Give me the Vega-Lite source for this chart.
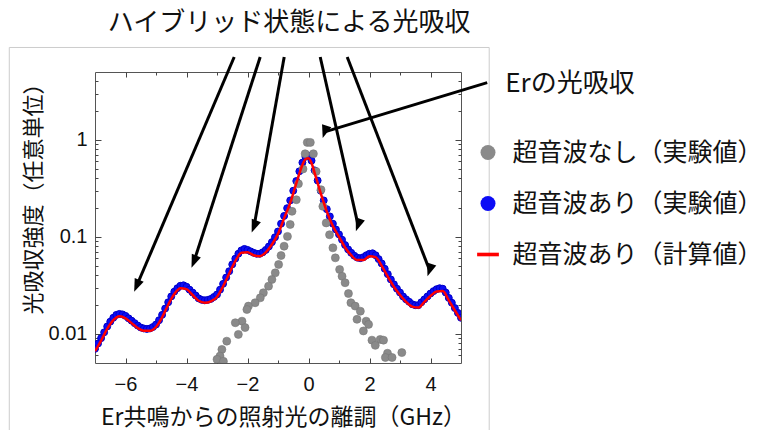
{
  "$schema": "https://vega.github.io/schema/vega-lite/v6.json",
  "autosize": "none",
  "width": 366,
  "height": 291,
  "padding": {"left": 95, "top": 72, "right": 302, "bottom": 67},
  "background": "white",
  "config": {
    "view": {"stroke": "#555555", "strokeWidth": 1},
    "font": "Liberation Sans",
    "legend": {
      "orient": "none", "legendX": 380.5, "legendY": 68, "title": null, "padding": 0,
      "labelFont": "Noto Sans CJK JP", "labelFontSize": 25, "labelColor": "#111111", "labelLimit": 0,
      "symbolSize": 225, "rowPadding": 25, "labelOffset": 12
    }
  },
  "datasets": {
    "frame": [{"x": -9.81, "y": 8.95, "x2": 5.925, "y2": 0.0008}],
    "blue": [
      {"x": -7.0, "y": 0.0070}, {"x": -6.9, "y": 0.00794}, {"x": -6.8, "y": 0.00902}, {"x": -6.7, "y": 0.01035}, {"x": -6.6, "y": 0.01189},
      {"x": -6.5, "y": 0.01334}, {"x": -6.4, "y": 0.01462}, {"x": -6.3, "y": 0.01567}, {"x": -6.2, "y": 0.01603}, {"x": -6.1, "y": 0.01585},
      {"x": -6.0, "y": 0.01531}, {"x": -5.9, "y": 0.01445}, {"x": -5.8, "y": 0.01365}, {"x": -5.7, "y": 0.01288}, {"x": -5.6, "y": 0.01216},
      {"x": -5.5, "y": 0.01161}, {"x": -5.4, "y": 0.01135}, {"x": -5.3, "y": 0.01122}, {"x": -5.2, "y": 0.01135}, {"x": -5.1, "y": 0.01175},
      {"x": -5.0, "y": 0.01245}, {"x": -4.9, "y": 0.0138}, {"x": -4.8, "y": 0.01567}, {"x": -4.7, "y": 0.0182}, {"x": -4.6, "y": 0.02113},
      {"x": -4.5, "y": 0.02427}, {"x": -4.4, "y": 0.02723}, {"x": -4.3, "y": 0.02951}, {"x": -4.2, "y": 0.03126}, {"x": -4.1, "y": 0.03162},
      {"x": -4.0, "y": 0.03055}, {"x": -3.9, "y": 0.02851}, {"x": -3.8, "y": 0.02661}, {"x": -3.7, "y": 0.02483}, {"x": -3.6, "y": 0.02317},
      {"x": -3.5, "y": 0.02239}, {"x": -3.4, "y": 0.02213}, {"x": -3.3, "y": 0.02239}, {"x": -3.2, "y": 0.02291}, {"x": -3.1, "y": 0.02399},
      {"x": -3.0, "y": 0.02541}, {"x": -2.9, "y": 0.02851}, {"x": -2.8, "y": 0.03273}, {"x": -2.7, "y": 0.03802}, {"x": -2.6, "y": 0.04416},
      {"x": -2.5, "y": 0.05188}, {"x": -2.4, "y": 0.05957}, {"x": -2.3, "y": 0.06683}, {"x": -2.2, "y": 0.07244}, {"x": -2.1, "y": 0.07499},
      {"x": -2.0, "y": 0.07328}, {"x": -1.9, "y": 0.07079}, {"x": -1.8, "y": 0.06839}, {"x": -1.7, "y": 0.06683}, {"x": -1.6, "y": 0.06683},
      {"x": -1.5, "y": 0.06918}, {"x": -1.4, "y": 0.07328}, {"x": -1.3, "y": 0.07943}, {"x": -1.2, "y": 0.0881}, {"x": -1.1, "y": 0.09886},
      {"x": -1.0, "y": 0.1135}, {"x": -0.9, "y": 0.1365}, {"x": -0.8, "y": 0.1641}, {"x": -0.7, "y": 0.1972}, {"x": -0.6, "y": 0.2371},
      {"x": -0.5, "y": 0.2985}, {"x": -0.4, "y": 0.3758}, {"x": -0.3, "y": 0.4732}, {"x": -0.2, "y": 0.5821}, {"x": -0.1, "y": 0.6683},
      {"x": 0.0, "y": 0.6839}, {"x": 0.1, "y": 0.6095}, {"x": 0.2, "y": 0.4842}, {"x": 0.3, "y": 0.3802}, {"x": 0.4, "y": 0.2985},
      {"x": 0.5, "y": 0.2371}, {"x": 0.6, "y": 0.1928}, {"x": 0.7, "y": 0.1622}, {"x": 0.8, "y": 0.1365}, {"x": 0.9, "y": 0.1189},
      {"x": 1.0, "y": 0.1059}, {"x": 1.1, "y": 0.09333}, {"x": 1.2, "y": 0.08222}, {"x": 1.3, "y": 0.07413}, {"x": 1.4, "y": 0.06839},
      {"x": 1.5, "y": 0.06383}, {"x": 1.6, "y": 0.06095}, {"x": 1.7, "y": 0.06026}, {"x": 1.8, "y": 0.06166}, {"x": 1.9, "y": 0.06457},
      {"x": 2.0, "y": 0.06683}, {"x": 2.1, "y": 0.06761}, {"x": 2.2, "y": 0.06457}, {"x": 2.3, "y": 0.05888}, {"x": 2.4, "y": 0.05309},
      {"x": 2.5, "y": 0.04677}, {"x": 2.6, "y": 0.04121}, {"x": 2.7, "y": 0.03631}, {"x": 2.8, "y": 0.03236}, {"x": 2.9, "y": 0.02917},
      {"x": 3.0, "y": 0.02661}, {"x": 3.1, "y": 0.02427}, {"x": 3.2, "y": 0.02265}, {"x": 3.3, "y": 0.02138}, {"x": 3.4, "y": 0.02018},
      {"x": 3.5, "y": 0.01972}, {"x": 3.6, "y": 0.01972}, {"x": 3.7, "y": 0.02113}, {"x": 3.8, "y": 0.02265}, {"x": 3.9, "y": 0.02427},
      {"x": 4.0, "y": 0.026}, {"x": 4.1, "y": 0.02754}, {"x": 4.2, "y": 0.02884}, {"x": 4.3, "y": 0.02951}, {"x": 4.4, "y": 0.02917},
      {"x": 4.5, "y": 0.02661}, {"x": 4.6, "y": 0.02344}, {"x": 4.7, "y": 0.02089}, {"x": 4.8, "y": 0.01841}, {"x": 4.9, "y": 0.01641},
      {"x": 5.0, "y": 0.01462}
    ],
    "gray": [
      {"x": -0.04, "y": 0.94}, {"x": 0.06, "y": 0.94}, {"x": -0.11, "y": 0.718}, {"x": 0.16, "y": 0.718}, {"x": -0.18, "y": 0.50},
      {"x": 0.25, "y": 0.472}, {"x": -0.33, "y": 0.352}, {"x": 0.41, "y": 0.306}, {"x": -0.40, "y": 0.241}, {"x": 0.47, "y": 0.206},
      {"x": -0.54, "y": 0.183}, {"x": -0.60, "y": 0.134}, {"x": 0.58, "y": 0.139}, {"x": -0.69, "y": 0.101}, {"x": 0.69, "y": 0.105},
      {"x": -0.80, "y": 0.080}, {"x": 0.80, "y": 0.0769}, {"x": -0.90, "y": 0.0641}, {"x": 0.88, "y": 0.0607}, {"x": -0.98, "y": 0.0518},
      {"x": 1.02, "y": 0.046}, {"x": -1.09, "y": 0.0425}, {"x": 1.10, "y": 0.0392}, {"x": -1.20, "y": 0.0363}, {"x": 1.20, "y": 0.0336},
      {"x": -1.31, "y": 0.031}, {"x": 1.31, "y": 0.026}, {"x": -1.48, "y": 0.0265}, {"x": 1.39, "y": 0.0209}, {"x": -1.58, "y": 0.0235},
      {"x": 1.53, "y": 0.0193}, {"x": -1.75, "y": 0.0209}, {"x": 1.70, "y": 0.0171}, {"x": -1.97, "y": 0.0193}, {"x": -2.02, "y": 0.0178},
      {"x": 1.59, "y": 0.0141}, {"x": 1.89, "y": 0.0135}, {"x": -2.18, "y": 0.0135}, {"x": 1.97, "y": 0.0125}, {"x": -2.40, "y": 0.013},
      {"x": 1.80, "y": 0.0107}, {"x": -2.08, "y": 0.0116}, {"x": 2.08, "y": 0.0086}, {"x": -2.30, "y": 0.00986}, {"x": 2.35, "y": 0.00875},
      {"x": 2.46, "y": 0.0086}, {"x": -2.68, "y": 0.0084}, {"x": 2.19, "y": 0.0076}, {"x": -2.84, "y": 0.0069}, {"x": 2.59, "y": 0.0063},
      {"x": -2.90, "y": 0.0059}, {"x": 3.06, "y": 0.0064}, {"x": -3.00, "y": 0.00545}, {"x": 2.52, "y": 0.0057}, {"x": 2.74, "y": 0.0057},
      {"x": -2.79, "y": 0.0052}
    ],
    "red": [
      {"x": -7.0, "y": 0.00661}, {"x": -6.8, "y": 0.00851}, {"x": -6.6, "y": 0.01122}, {"x": -6.4, "y": 0.0138}, {"x": -6.2, "y": 0.01514},
      {"x": -6.0, "y": 0.01445}, {"x": -5.8, "y": 0.01288}, {"x": -5.6, "y": 0.01148}, {"x": -5.4, "y": 0.01072}, {"x": -5.2, "y": 0.01072},
      {"x": -5.0, "y": 0.01175}, {"x": -4.8, "y": 0.01479}, {"x": -4.6, "y": 0.01995}, {"x": -4.4, "y": 0.0257}, {"x": -4.2, "y": 0.02951},
      {"x": -4.0, "y": 0.02884}, {"x": -3.8, "y": 0.02512}, {"x": -3.6, "y": 0.02188}, {"x": -3.4, "y": 0.02089}, {"x": -3.2, "y": 0.02163},
      {"x": -3.0, "y": 0.02399}, {"x": -2.8, "y": 0.0309}, {"x": -2.6, "y": 0.04169}, {"x": -2.4, "y": 0.05623}, {"x": -2.2, "y": 0.06839},
      {"x": -2.0, "y": 0.06918}, {"x": -1.8, "y": 0.06457}, {"x": -1.6, "y": 0.0631}, {"x": -1.4, "y": 0.06918}, {"x": -1.2, "y": 0.08318},
      {"x": -1.0, "y": 0.1072}, {"x": -0.8, "y": 0.1549}, {"x": -0.6, "y": 0.2239}, {"x": -0.4, "y": 0.3548}, {"x": -0.2, "y": 0.5495},
      {"x": -0.1, "y": 0.631}, {"x": 0.0, "y": 0.6457}, {"x": 0.1, "y": 0.5754}, {"x": 0.2, "y": 0.4571}, {"x": 0.4, "y": 0.2818},
      {"x": 0.6, "y": 0.182}, {"x": 0.8, "y": 0.1288}, {"x": 1.0, "y": 0.1}, {"x": 1.2, "y": 0.07762}, {"x": 1.4, "y": 0.06457},
      {"x": 1.6, "y": 0.05754}, {"x": 1.8, "y": 0.05754}, {"x": 2.0, "y": 0.0631}, {"x": 2.2, "y": 0.06166}, {"x": 2.4, "y": 0.05012},
      {"x": 2.6, "y": 0.0389}, {"x": 2.8, "y": 0.03055}, {"x": 3.0, "y": 0.02512}, {"x": 3.2, "y": 0.02138}, {"x": 3.4, "y": 0.01905},
      {"x": 3.6, "y": 0.01862}, {"x": 3.8, "y": 0.02138}, {"x": 4.0, "y": 0.02455}, {"x": 4.2, "y": 0.02723}, {"x": 4.4, "y": 0.02754},
      {"x": 4.6, "y": 0.02213}, {"x": 4.8, "y": 0.01738}, {"x": 5.0, "y": 0.0138}
    ],
    "arrows": [
      {"id": "a1", "x": -2.436, "y": 7.14, "x2": -5.633, "y2": 0.03126},
      {"id": "a2", "x": -1.584, "y": 7.14, "x2": -3.757, "y2": 0.05546},
      {"id": "a3", "x": -0.797, "y": 7.14, "x2": -1.787, "y2": 0.1276},
      {"id": "a4", "x": 0.384, "y": 7.14, "x2": 1.626, "y2": 0.1321},
      {"id": "a5", "x": 1.269, "y": 7.14, "x2": 3.970, "y2": 0.04529},
      {"id": "er", "x": 5.859, "y": 3.886, "x2": 0.531, "y2": 1.206}
    ],
    "toptext": [{"x": -0.633, "y": 15.99, "t": "ハイブリッド状態による光吸収"}],
    "ertext": [{"x": 6.45, "y": 3.77, "t": "Erの光吸収"}]
  },
  "layer": [
    {
      "data": {"name": "frame"},
      "mark": {"type": "rect", "fill": null, "fillOpacity": 0, "stroke": "#cccccc", "strokeWidth": 1, "clip": false},
      "encoding": {
        "x": {"field": "x", "type": "quantitative", "scale": {"domain": [-7, 5], "nice": false, "zero": false}, "axis": null},
        "x2": {"field": "x2"},
        "y": {"field": "y", "type": "quantitative", "scale": {"type": "log", "domain": [0.005, 5], "nice": false}, "axis": null},
        "y2": {"field": "y2"}
      }
    },
    {
      "data": {"name": "blue"},
      "mark": {"type": "point", "filled": true, "size": 48, "opacity": 1, "stroke": "#0000c8", "strokeWidth": 1, "clip": true},
      "encoding": {
        "x": {"field": "x", "type": "quantitative", "scale": {"domain": [-7, 5], "nice": false, "zero": false},
          "axis": {"orient": "top", "values": [-6, -5, -4, -3, -2, -1, 0, 1, 2, 3, 4], "labels": false, "title": null, "domain": false, "grid": false,
            "tickColor": "#444444", "tickSize": {"condition": {"test": "datum.value % 2 === 0", "value": -5}, "value": -3}}},
        "y": {"field": "y", "type": "quantitative", "scale": {"type": "log", "domain": [0.005, 5], "nice": false},
          "axis": {"orient": "right", "values": [0.006, 0.007, 0.008, 0.009, 0.01, 0.02, 0.03, 0.04, 0.05, 0.06, 0.07, 0.08, 0.09, 0.1, 0.2, 0.3, 0.4, 0.5, 0.6, 0.7, 0.8, 0.9, 1, 2, 3, 4],
            "labels": false, "title": null, "domain": false, "grid": false, "tickColor": "#444444",
            "tickSize": {"condition": {"test": "datum.value === 1 || datum.value === 0.1 || datum.value === 0.01", "value": -6}, "value": -3}}},
        "color": {"datum": "超音波あり（実験値）", "type": "nominal",
          "scale": {"domain": ["超音波なし（実験値）", "超音波あり（実験値）", "超音波あり（計算値）"], "range": ["#8a8a8a", "#0c0cf5", "#ff0000"]},
          "legend": {"encode": {"symbols": {"update": {
              "shape": [{"test": "datum.index === 2", "value": "M-1.45,-0.24H1.45V0.24H-1.45Z"}, {"value": "circle"}],
              "fill": {"scale": "color", "field": "value"},
              "stroke": {"value": "transparent"},
              "strokeWidth": {"value": 0},
              "opacity": {"value": 1},
              "fillOpacity": {"value": 1}}}}}}
      }
    },
    {
      "data": {"name": "gray"},
      "mark": {"type": "point", "filled": true, "size": 64, "opacity": 1, "stroke": "#777777", "strokeWidth": 0.6, "clip": true},
      "encoding": {
        "x": {"field": "x", "type": "quantitative", "scale": {"domain": [-7, 5], "nice": false, "zero": false},
          "axis": {"orient": "bottom", "values": [-6, -5, -4, -3, -2, -1, 0, 1, 2, 3, 4], "domain": false, "grid": false,
            "labelExpr": "datum.value % 2 === 0 ? datum.label : ''", "labelOverlap": false,
            "labelFont": "Liberation Sans", "labelFontSize": 20, "labelColor": "#111111", "labelPadding": 16,
            "tickColor": "#444444", "tickSize": {"condition": {"test": "datum.value % 2 === 0", "value": -5}, "value": -3},
            "title": "Er共鳴からの照射光の離調（GHz）", "titleFont": "Noto Sans CJK JP", "titleFontSize": 23, "titleFontWeight": "normal",
            "titleColor": "#111111", "titlePadding": 10, "titleX": 188}},
        "y": {"field": "y", "type": "quantitative", "scale": {"type": "log", "domain": [0.005, 5], "nice": false},
          "axis": {"orient": "left", "values": [0.006, 0.007, 0.008, 0.009, 0.01, 0.02, 0.03, 0.04, 0.05, 0.06, 0.07, 0.08, 0.09, 0.1, 0.2, 0.3, 0.4, 0.5, 0.6, 0.7, 0.8, 0.9, 1, 2, 3, 4],
            "domain": false, "grid": false, "labelOverlap": false,
            "labelExpr": "datum.value === 1 ? '1' : datum.value === 0.1 ? '0.1' : datum.value === 0.01 ? '0.01' : ''",
            "labelFont": "Liberation Sans", "labelFontSize": 20, "labelColor": "#111111", "labelPadding": 14,
            "tickColor": "#444444", "tickSize": {"condition": {"test": "datum.value === 1 || datum.value === 0.1 || datum.value === 0.01", "value": -6}, "value": -3},
            "title": "光吸収強度（任意単位）", "titleFont": "Noto Sans CJK JP", "titleFontSize": 22, "titleFontWeight": "normal",
            "titleColor": "#111111", "titleAnchor": "end", "titlePadding": 3}},
        "color": {"datum": "超音波なし（実験値）", "type": "nominal",
          "scale": {"domain": ["超音波なし（実験値）", "超音波あり（実験値）", "超音波あり（計算値）"], "range": ["#8a8a8a", "#0c0cf5", "#ff0000"]},
          "legend": {"encode": {"symbols": {"update": {
              "shape": [{"test": "datum.index === 2", "value": "M-1.45,-0.24H1.45V0.24H-1.45Z"}, {"value": "circle"}],
              "fill": {"scale": "color", "field": "value"},
              "stroke": {"value": "transparent"},
              "strokeWidth": {"value": 0},
              "opacity": {"value": 1},
              "fillOpacity": {"value": 1}}}}}}
      }
    },
    {
      "data": {"name": "red"},
      "mark": {"type": "line", "strokeWidth": 2.5, "interpolate": "monotone", "clip": true},
      "encoding": {
        "x": {"field": "x", "type": "quantitative", "scale": {"domain": [-7, 5], "nice": false, "zero": false}, "axis": null},
        "y": {"field": "y", "type": "quantitative", "scale": {"type": "log", "domain": [0.005, 5], "nice": false}, "axis": null},
        "color": {"datum": "超音波あり（計算値）", "type": "nominal",
          "scale": {"domain": ["超音波なし（実験値）", "超音波あり（実験値）", "超音波あり（計算値）"], "range": ["#8a8a8a", "#0c0cf5", "#ff0000"]},
          "legend": {"encode": {"symbols": {"update": {
              "shape": [{"test": "datum.index === 2", "value": "M-1.45,-0.24H1.45V0.24H-1.45Z"}, {"value": "circle"}],
              "fill": {"scale": "color", "field": "value"},
              "stroke": {"value": "transparent"},
              "strokeWidth": {"value": 0},
              "opacity": {"value": 1},
              "fillOpacity": {"value": 1}}}}}}
      }
    },
    {
      "data": {"name": "arrows"},
      "mark": {"type": "rule", "color": "#000000", "strokeWidth": 3, "clip": false},
      "encoding": {
        "x": {"field": "x", "type": "quantitative", "scale": {"domain": [-7, 5], "nice": false, "zero": false}, "axis": null},
        "x2": {"field": "x2"},
        "y": {"field": "y", "type": "quantitative", "scale": {"type": "log", "domain": [0.005, 5], "nice": false}, "axis": null},
        "y2": {"field": "y2"}
      }
    },
    {
      "data": {"name": "arrows"},
      "mark": {"type": "point", "filled": true, "color": "#000000", "opacity": 1, "size": 169, "shape": "M0,-1L0.75,1L-0.75,1Z", "clip": false},
      "encoding": {
        "x": {"field": "x2", "type": "quantitative", "scale": {"domain": [-7, 5], "nice": false, "zero": false}, "axis": null},
        "y": {"field": "y2", "type": "quantitative", "scale": {"type": "log", "domain": [0.005, 5], "nice": false}, "axis": null},
        "angle": {"field": "id", "type": "nominal", "legend": null,
          "scale": {"domain": ["a1", "a2", "a3", "a4", "a5", "er"], "range": [202.8, 197.9, 190.1, 167.3, 158.9, 253.1]}}
      }
    },
    {
      "data": {"name": "toptext"},
      "mark": {"type": "text", "font": "Noto Sans CJK JP", "fontSize": 26, "color": "#111111", "align": "center", "baseline": "middle", "clip": false},
      "encoding": {
        "x": {"field": "x", "type": "quantitative", "scale": {"domain": [-7, 5], "nice": false, "zero": false}, "axis": null},
        "y": {"field": "y", "type": "quantitative", "scale": {"type": "log", "domain": [0.005, 5], "nice": false}, "axis": null},
        "text": {"field": "t"}
      }
    },
    {
      "data": {"name": "ertext"},
      "mark": {"type": "text", "font": "Noto Sans CJK JP", "fontSize": 26, "color": "#111111", "align": "left", "baseline": "middle", "clip": false},
      "encoding": {
        "x": {"field": "x", "type": "quantitative", "scale": {"domain": [-7, 5], "nice": false, "zero": false}, "axis": null},
        "y": {"field": "y", "type": "quantitative", "scale": {"type": "log", "domain": [0.005, 5], "nice": false}, "axis": null},
        "text": {"field": "t"}
      }
    }
  ],
  "resolve": {"axis": {"x": "independent", "y": "independent"}}
}
